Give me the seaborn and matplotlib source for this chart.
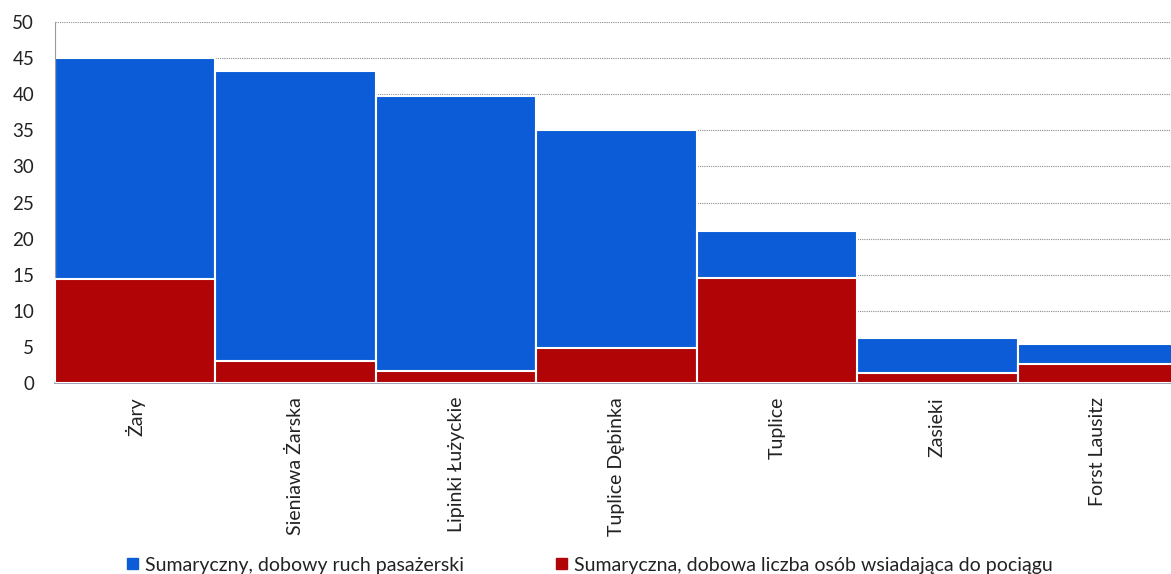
import matplotlib
matplotlib.use("Agg")
import matplotlib.pyplot as plt
import matplotlib.patches as mpatches
import seaborn as sns
import pandas as pd

stations = ["Żary", "Sieniawa Żarska", "Lipinki Łużyckie", "Tuplice Dębinka",
            "Tuplice", "Zasieki", "Forst Lausitz"]
total_traffic = [45.0, 43.2, 39.7, 35.0, 21.1, 6.2, 5.4]
boarding = [14.4, 3.1, 1.7, 4.8, 14.5, 1.4, 2.6]
yticks = [0, 5, 10, 15, 20, 25, 30, 35, 40, 45, 50]
legend_labels = ["Sumaryczny, dobowy ruch pasażerski",
                 "Sumaryczna, dobowa liczba osób wsiadająca do pociągu"]

blue = "#0B5CD6"
red = "#B00406"

sns.set_theme(style="white")
plt.rcParams['font.family'] = ['Lato', 'DejaVu Sans']

df = pd.DataFrame({"station": stations, "total": total_traffic, "boarding": boarding})

fig = plt.figure(figsize=(11.71, 5.74), dpi=100)
ax = fig.add_axes([55/1171, 1 - 383/574, (1178 - 55)/1171, (383 - 22)/574])

sns.barplot(data=df, x="station", y="total", color=blue, saturation=1, width=1,
            edgecolor="white", linewidth=1.5, ax=ax, zorder=2)
sns.barplot(data=df, x="station", y="boarding", color=red, saturation=1, width=1,
            edgecolor="white", linewidth=1.5, ax=ax, zorder=3)

ax.set_xlim(-0.5, len(stations) - 0.5)
ax.set_ylim(0, 50)
ax.set_yticks(yticks)
ax.set_yticklabels([str(v) for v in yticks], fontsize=13.5, color="#222222")
ax.set_xticks(range(len(stations)))
ax.set_xticklabels(stations, rotation=90, fontsize=14, color="#222222", va="top", ha="center")
ax.tick_params(axis="x", length=0, pad=10)
ax.tick_params(axis="y", length=0, pad=15)
ax.set_xlabel("")
ax.set_ylabel("")

ax.yaxis.grid(True, linestyle=(0, (1, 1)), color="#8a8a8a", linewidth=0.8, zorder=0)
ax.set_axisbelow(True)
for s in ["top", "right"]:
    ax.spines[s].set_visible(False)
ax.spines["left"].set_color("#9a9a9a")
ax.spines["left"].set_linestyle((0, (1, 1)))
ax.spines["left"].set_linewidth(0.8)
ax.spines["bottom"].set_color("#8c94a8")
ax.spines["bottom"].set_linewidth(1.2)

handles = [mpatches.Patch(color=blue), mpatches.Patch(color=red)]
fig.legend(handles, legend_labels, loc="center", bbox_to_anchor=(590/1171, 9/574),
           ncol=2, frameon=False, fontsize=14, handlelength=0.55, handleheight=0.55,
           handletextpad=0.4, columnspacing=4.7, labelcolor="#222222")

fig.savefig("out.png", dpi=100)
